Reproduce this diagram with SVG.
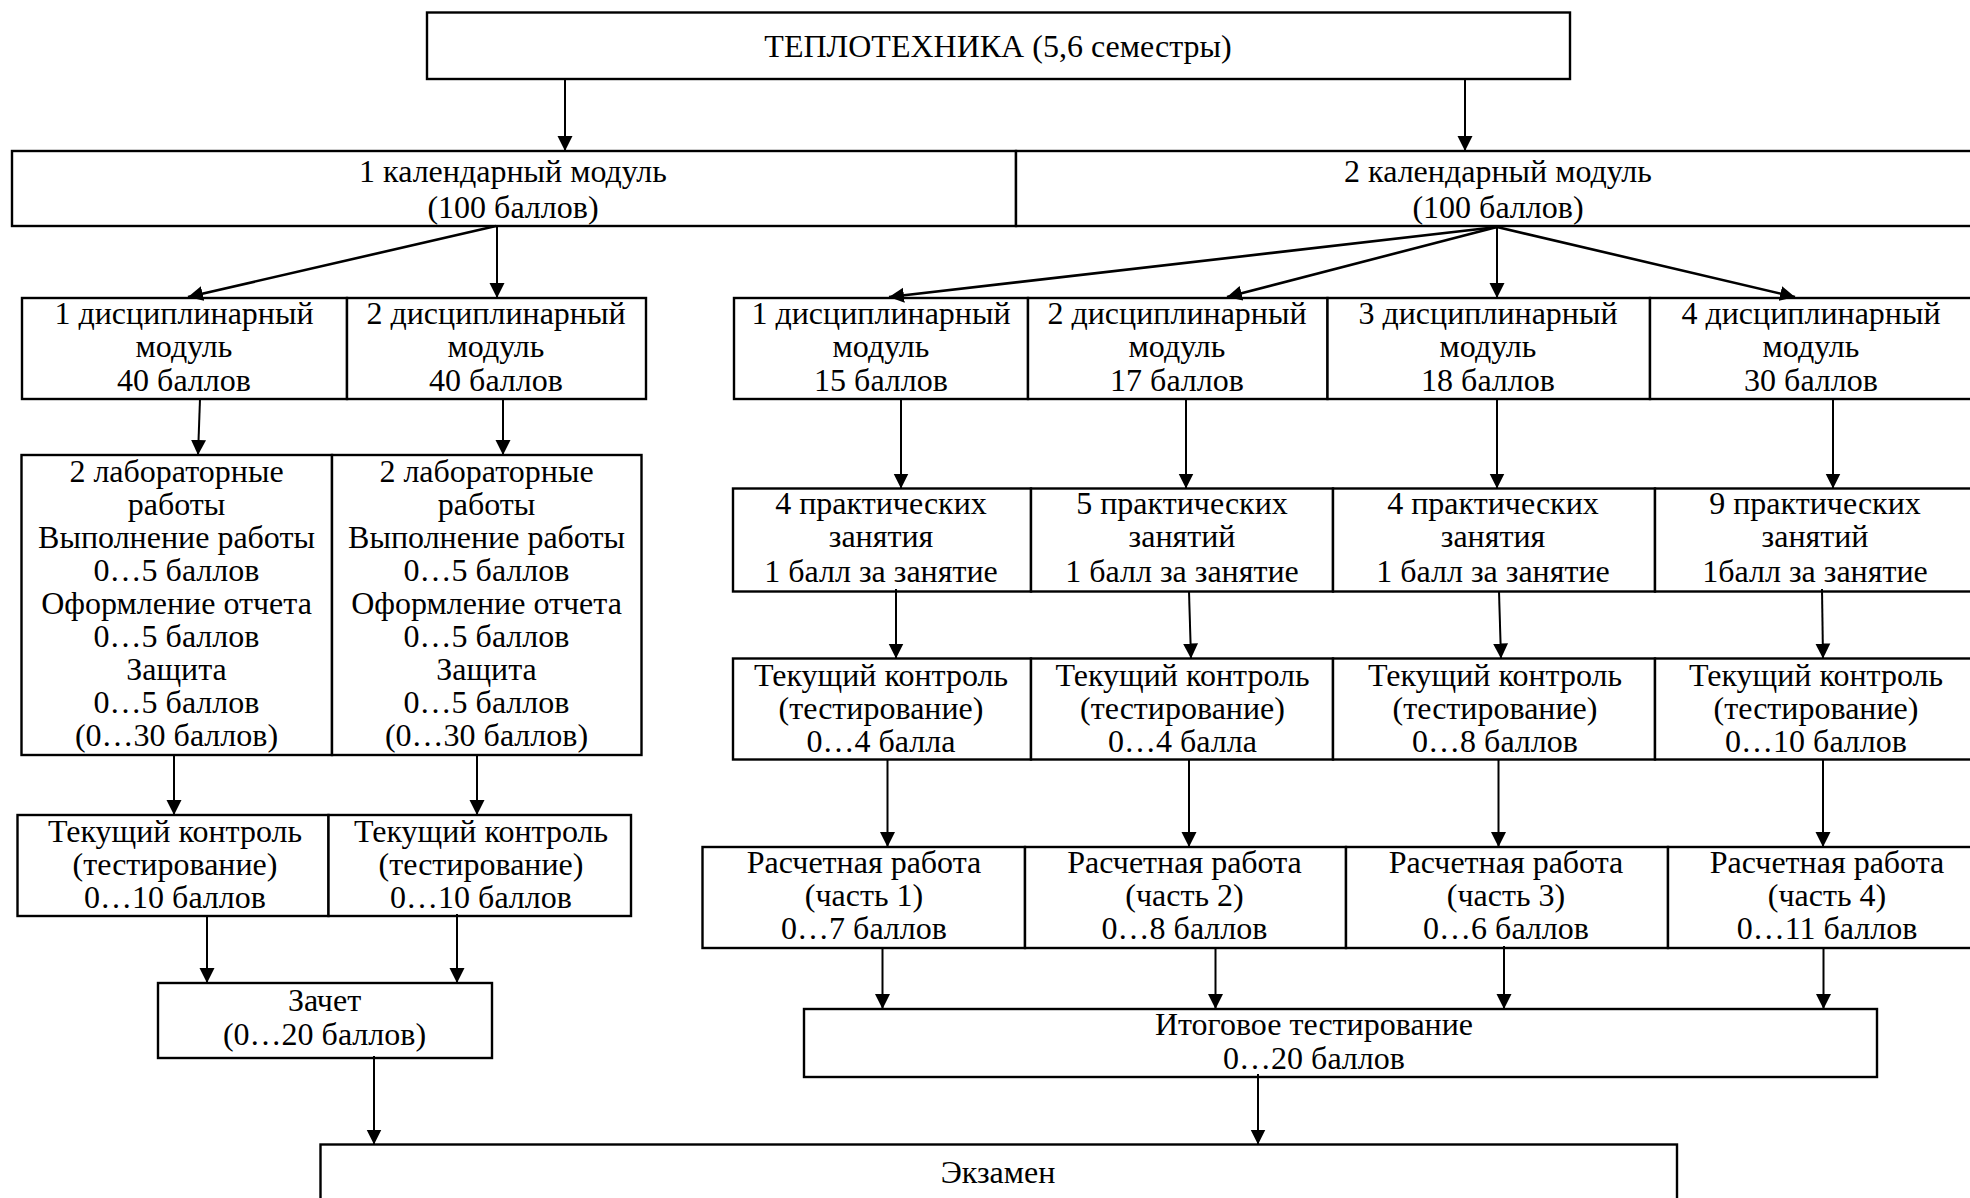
<svg xmlns="http://www.w3.org/2000/svg" width="1970" height="1198" viewBox="0 0 1970 1198">
<style>
.box{fill:#fff;stroke:#000;stroke-width:2.4}
.t{font-family:"Liberation Serif","Times New Roman",serif;font-size:32px;text-anchor:middle;fill:#000}
.c{stroke:#000;stroke-width:2;fill:none;marker-end:url(#ah)}
.d{stroke:#000;stroke-width:2.6;fill:none;marker-end:url(#ah)}
</style>
<defs>
<marker id="ah" markerUnits="userSpaceOnUse" viewBox="0 0 16 16" markerWidth="16" markerHeight="16" refX="15" refY="8" orient="auto">
<path d="M0,0.5 L15,8 L0,15.5 z" fill="#000"/>
</marker>
</defs>
<rect width="1970" height="1198" fill="#fff"/>

<g id="top"><rect class="box" x="427" y="12.5" width="1143" height="66.5"/>
<text class="t" x="998" y="57">ТЕПЛОТЕХНИКА (5,6 семестры)</text></g>

<g id="cal1"><rect class="box" x="12" y="151" width="1004" height="75"/>
<text class="t"><tspan x="513" y="182">1 календарный модуль</tspan><tspan x="513" y="218">(100 баллов)</tspan></text></g>
<g id="cal2"><rect class="box" x="1016" y="151" width="990" height="75"/>
<text class="t"><tspan x="1498" y="182">2 календарный модуль</tspan><tspan x="1498" y="218">(100 баллов)</tspan></text></g>

<g id="d1l"><rect class="box" x="22" y="298" width="325" height="101"/>
<text class="t"><tspan x="184" y="324">1 дисциплинарный</tspan><tspan x="184" y="357">модуль</tspan><tspan x="184" y="391">40 баллов</tspan></text></g>
<g id="d2l"><rect class="box" x="347" y="298" width="299" height="101"/>
<text class="t"><tspan x="496" y="324">2 дисциплинарный</tspan><tspan x="496" y="357">модуль</tspan><tspan x="496" y="391">40 баллов</tspan></text></g>

<g id="d1r"><rect class="box" x="734" y="298" width="294" height="101"/>
<text class="t"><tspan x="881" y="324">1 дисциплинарный</tspan><tspan x="881" y="357">модуль</tspan><tspan x="881" y="391">15 баллов</tspan></text></g>
<g id="d2r"><rect class="box" x="1028" y="298" width="299.5" height="101"/>
<text class="t"><tspan x="1177" y="324">2 дисциплинарный</tspan><tspan x="1177" y="357">модуль</tspan><tspan x="1177" y="391">17 баллов</tspan></text></g>
<g id="d3r"><rect class="box" x="1327.5" y="298" width="322.5" height="101"/>
<text class="t"><tspan x="1488" y="324">3 дисциплинарный</tspan><tspan x="1488" y="357">модуль</tspan><tspan x="1488" y="391">18 баллов</tspan></text></g>
<g id="d4r"><rect class="box" x="1650" y="298" width="360" height="101"/>
<text class="t"><tspan x="1811" y="324">4 дисциплинарный</tspan><tspan x="1811" y="357">модуль</tspan><tspan x="1811" y="391">30 баллов</tspan></text></g>

<g id="lab1"><rect class="box" x="21.5" y="455" width="310.5" height="300"/>
<text class="t"><tspan x="176.5" y="482">2 лабораторные</tspan><tspan x="176.5" y="515">работы</tspan><tspan x="176.5" y="548">Выполнение работы</tspan><tspan x="176.5" y="581">0…5 баллов</tspan><tspan x="176.5" y="614">Оформление отчета</tspan><tspan x="176.5" y="647">0…5 баллов</tspan><tspan x="176.5" y="680">Защита</tspan><tspan x="176.5" y="713">0…5 баллов</tspan><tspan x="176.5" y="746">(0…30 баллов)</tspan></text></g>
<g id="lab2"><rect class="box" x="332" y="455" width="309.5" height="300"/>
<text class="t"><tspan x="486.5" y="482">2 лабораторные</tspan><tspan x="486.5" y="515">работы</tspan><tspan x="486.5" y="548">Выполнение работы</tspan><tspan x="486.5" y="581">0…5 баллов</tspan><tspan x="486.5" y="614">Оформление отчета</tspan><tspan x="486.5" y="647">0…5 баллов</tspan><tspan x="486.5" y="680">Защита</tspan><tspan x="486.5" y="713">0…5 баллов</tspan><tspan x="486.5" y="746">(0…30 баллов)</tspan></text></g>

<g id="p1"><rect class="box" x="733" y="488.5" width="298" height="103"/>
<text class="t"><tspan x="881" y="514">4 практических</tspan><tspan x="881" y="547">занятия</tspan><tspan x="881" y="582">1 балл за занятие</tspan></text></g>
<g id="p2"><rect class="box" x="1031" y="488.5" width="302" height="103"/>
<text class="t"><tspan x="1182" y="514">5 практических</tspan><tspan x="1182" y="547">занятий</tspan><tspan x="1182" y="582">1 балл за занятие</tspan></text></g>
<g id="p3"><rect class="box" x="1333" y="488.5" width="322" height="103"/>
<text class="t"><tspan x="1493" y="514">4 практических</tspan><tspan x="1493" y="547">занятия</tspan><tspan x="1493" y="582">1 балл за занятие</tspan></text></g>
<g id="p4"><rect class="box" x="1655" y="488.5" width="355" height="103"/>
<text class="t"><tspan x="1815" y="514">9 практических</tspan><tspan x="1815" y="547">занятий</tspan><tspan x="1815" y="582">1балл за занятие</tspan></text></g>

<g id="t1"><rect class="box" x="733" y="658.5" width="298" height="101"/>
<text class="t"><tspan x="881" y="686">Текущий контроль</tspan><tspan x="881" y="719">(тестирование)</tspan><tspan x="881" y="752">0…4 балла</tspan></text></g>
<g id="t2"><rect class="box" x="1031" y="658.5" width="302" height="101"/>
<text class="t"><tspan x="1182.5" y="686">Текущий контроль</tspan><tspan x="1182.5" y="719">(тестирование)</tspan><tspan x="1182.5" y="752">0…4 балла</tspan></text></g>
<g id="t3"><rect class="box" x="1333" y="658.5" width="322" height="101"/>
<text class="t"><tspan x="1495" y="686">Текущий контроль</tspan><tspan x="1495" y="719">(тестирование)</tspan><tspan x="1495" y="752">0…8 баллов</tspan></text></g>
<g id="t4"><rect class="box" x="1655" y="658.5" width="355" height="101"/>
<text class="t"><tspan x="1816" y="686">Текущий контроль</tspan><tspan x="1816" y="719">(тестирование)</tspan><tspan x="1816" y="752">0…10 баллов</tspan></text></g>

<g id="tl1"><rect class="box" x="17.5" y="815" width="311" height="101"/>
<text class="t"><tspan x="175" y="842">Текущий контроль</tspan><tspan x="175" y="875">(тестирование)</tspan><tspan x="175" y="908">0…10 баллов</tspan></text></g>
<g id="tl2"><rect class="box" x="328.5" y="815" width="302.5" height="101"/>
<text class="t"><tspan x="481" y="842">Текущий контроль</tspan><tspan x="481" y="875">(тестирование)</tspan><tspan x="481" y="908">0…10 баллов</tspan></text></g>

<g id="zachet"><rect class="box" x="158" y="983" width="334" height="75"/>
<text class="t"><tspan x="324.5" y="1011">Зачет</tspan><tspan x="324.5" y="1045">(0…20 баллов)</tspan></text></g>

<g id="r1"><rect class="box" x="702.5" y="847" width="322.5" height="101"/>
<text class="t"><tspan x="864" y="873">Расчетная работа</tspan><tspan x="864" y="906">(часть 1)</tspan><tspan x="864" y="939">0…7 баллов</tspan></text></g>
<g id="r2"><rect class="box" x="1025" y="847" width="321" height="101"/>
<text class="t"><tspan x="1184.5" y="873">Расчетная работа</tspan><tspan x="1184.5" y="906">(часть 2)</tspan><tspan x="1184.5" y="939">0…8 баллов</tspan></text></g>
<g id="r3"><rect class="box" x="1346" y="847" width="322" height="101"/>
<text class="t"><tspan x="1506" y="873">Расчетная работа</tspan><tspan x="1506" y="906">(часть 3)</tspan><tspan x="1506" y="939">0…6 баллов</tspan></text></g>
<g id="r4"><rect class="box" x="1668" y="847" width="342" height="101"/>
<text class="t"><tspan x="1827" y="873">Расчетная работа</tspan><tspan x="1827" y="906">(часть 4)</tspan><tspan x="1827" y="939">0…11 баллов</tspan></text></g>

<g id="itog"><rect class="box" x="804" y="1009" width="1073" height="68"/>
<text class="t"><tspan x="1314" y="1035">Итоговое тестирование</tspan><tspan x="1314" y="1068.5">0…20 баллов</tspan></text></g>

<g id="exam"><rect class="box" x="320.5" y="1144.5" width="1356.5" height="80"/>
<text class="t" x="998" y="1183">Экзамен</text></g>

<g id="connectors">
<line class="c" x1="565" y1="79" x2="565" y2="151"/>
<line class="c" x1="1465" y1="79" x2="1465" y2="151"/>
<line class="d" x1="496" y1="226" x2="188" y2="297"/>
<line class="c" x1="497" y1="226" x2="497" y2="298"/>
<line class="d" x1="1497" y1="227" x2="889" y2="297"/>
<line class="d" x1="1497" y1="227" x2="1227" y2="297"/>
<line class="c" x1="1497" y1="227" x2="1497" y2="298"/>
<line class="d" x1="1497" y1="227" x2="1795" y2="297"/>
<line class="c" x1="200" y1="399" x2="198" y2="455"/>
<line class="c" x1="503" y1="399" x2="503" y2="455"/>
<line class="c" x1="901" y1="399" x2="901" y2="488.5"/>
<line class="c" x1="1186" y1="399" x2="1186" y2="488.5"/>
<line class="c" x1="1497" y1="399" x2="1497" y2="488.5"/>
<line class="c" x1="1833" y1="399" x2="1833" y2="488.5"/>
<line class="c" x1="896" y1="589" x2="896" y2="658.5"/>
<line class="c" x1="1189" y1="591.5" x2="1191" y2="658.5"/>
<line class="c" x1="1499" y1="591.5" x2="1501" y2="658.5"/>
<line class="c" x1="1822" y1="589" x2="1823" y2="658.5"/>
<line class="c" x1="887.5" y1="759.5" x2="887.5" y2="847"/>
<line class="c" x1="1189" y1="759.5" x2="1189" y2="847"/>
<line class="c" x1="1498.5" y1="759.5" x2="1498.5" y2="847"/>
<line class="c" x1="1823" y1="759.5" x2="1823" y2="847"/>
<line class="c" x1="174" y1="755" x2="174" y2="815"/>
<line class="c" x1="477" y1="755" x2="477" y2="815"/>
<line class="c" x1="207" y1="916" x2="207" y2="983"/>
<line class="c" x1="457" y1="914" x2="457" y2="983"/>
<line class="c" x1="374" y1="1056" x2="374" y2="1144.5"/>
<line class="c" x1="882.5" y1="948" x2="882.5" y2="1009"/>
<line class="c" x1="1215.5" y1="948" x2="1215.5" y2="1009"/>
<line class="c" x1="1504" y1="946" x2="1504" y2="1009"/>
<line class="c" x1="1823.5" y1="948" x2="1823.5" y2="1009"/>
<line class="c" x1="1258" y1="1074" x2="1258" y2="1144.5"/>
</g>
</svg>
